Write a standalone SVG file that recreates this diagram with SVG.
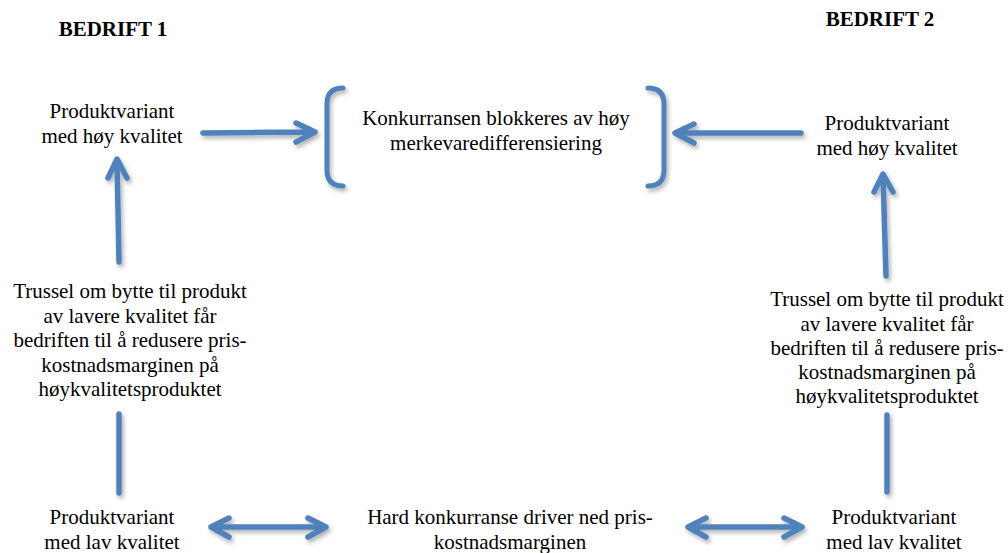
<svg xmlns="http://www.w3.org/2000/svg" width="1008" height="553" viewBox="0 0 1008 553">
  <style>
    text { font-family: "Liberation Serif", "Times New Roman", serif; font-size: 21px; fill: #000; text-anchor: middle; }
    .title { font-weight: bold; }
    .conn { fill: none; stroke: #4F81BD; stroke-width: 5.5; stroke-linecap: round; stroke-linejoin: round; filter: url(#shadow); }
    .bracket { fill: none; stroke: #4F81BD; stroke-width: 5; stroke-linecap: round; filter: url(#shadow); }
  </style>
  <defs>
    <filter id="shadow" filterUnits="userSpaceOnUse" x="0" y="0" width="1008" height="553">
      <feDropShadow dx="2" dy="3" stdDeviation="2" flood-color="#000" flood-opacity="0.3"/>
    </filter>
  </defs>
  <rect width="1008" height="553" fill="#fff"/>

  <g id="bedrift1"><text class="title" x="113" y="36">BEDRIFT 1</text></g>
  <g id="bedrift2"><text class="title" x="880" y="26">BEDRIFT 2</text></g>

  <g id="hoy1">
    <text x="112" y="118">Produktvariant</text>
    <text x="112" y="143">med høy kvalitet</text>
  </g>
  <g id="hoy2">
    <text x="887" y="130">Produktvariant</text>
    <text x="887" y="155">med høy kvalitet</text>
  </g>

  <g id="center">
    <path class="bracket" d="M343,88 Q327,88 327,104 L327,170 Q327,186 343,186"/>
    <path class="bracket" d="M648,88 Q664,88 664,104 L664,170 Q664,186 648,186"/>
    <text x="496" y="125">Konkurransen blokkeres av høy</text>
    <text x="496" y="150">merkevaredifferensiering</text>
  </g>

  <g id="trussel1">
    <text x="130" y="298">Trussel om bytte til produkt</text>
    <text x="130" y="323">av lavere kvalitet får</text>
    <text x="130" y="347">bedriften til å redusere pris-</text>
    <text x="130" y="372">kostnadsmarginen på</text>
    <text x="130" y="396">høykvalitetsproduktet</text>
  </g>
  <g id="trussel2">
    <text x="887" y="306">Trussel om bytte til produkt</text>
    <text x="887" y="331">av lavere kvalitet får</text>
    <text x="887" y="355">bedriften til å redusere pris-</text>
    <text x="887" y="379">kostnadsmarginen på</text>
    <text x="887" y="403">høykvalitetsproduktet</text>
  </g>

  <g id="lav1">
    <text x="112" y="524">Produktvariant</text>
    <text x="112" y="549">med lav kvalitet</text>
  </g>
  <g id="hard">
    <text x="510" y="524">Hard konkurranse driver ned pris-</text>
    <text x="510" y="549">kostnadsmarginen</text>
  </g>
  <g id="lav2">
    <text x="894" y="524">Produktvariant</text>
    <text x="894" y="549">med lav kvalitet</text>
  </g>

  <g id="connectors">
    <!-- left high -> center -->
    <path class="conn" d="M203,133 L314,132 M296,123 L315,132 L296,142"/>
    <!-- right high -> center -->
    <path class="conn" d="M801,133 L676,133 M694,124 L675,133 L694,143"/>
    <!-- left up arrow -->
    <path class="conn" d="M119,262 L117,160 M108,178 L117,159 L127,178"/>
    <!-- right up arrow -->
    <path class="conn" d="M886,276 L883,175 M874,192 L883,174 L893,192"/>
    <!-- left vertical line -->
    <path class="conn" d="M119,414 L119,493"/>
    <!-- right vertical line -->
    <path class="conn" d="M887,415 L887,492"/>
    <!-- bottom left double arrow -->
    <path class="conn" d="M211,527 L326,527 M229,518 L211,527 L229,537 M308,518 L326,527 L308,537"/>
    <!-- bottom right double arrow -->
    <path class="conn" d="M688,527 L802,527 M706,518 L688,527 L706,537 M784,518 L802,527 L784,537"/>
  </g>
</svg>
